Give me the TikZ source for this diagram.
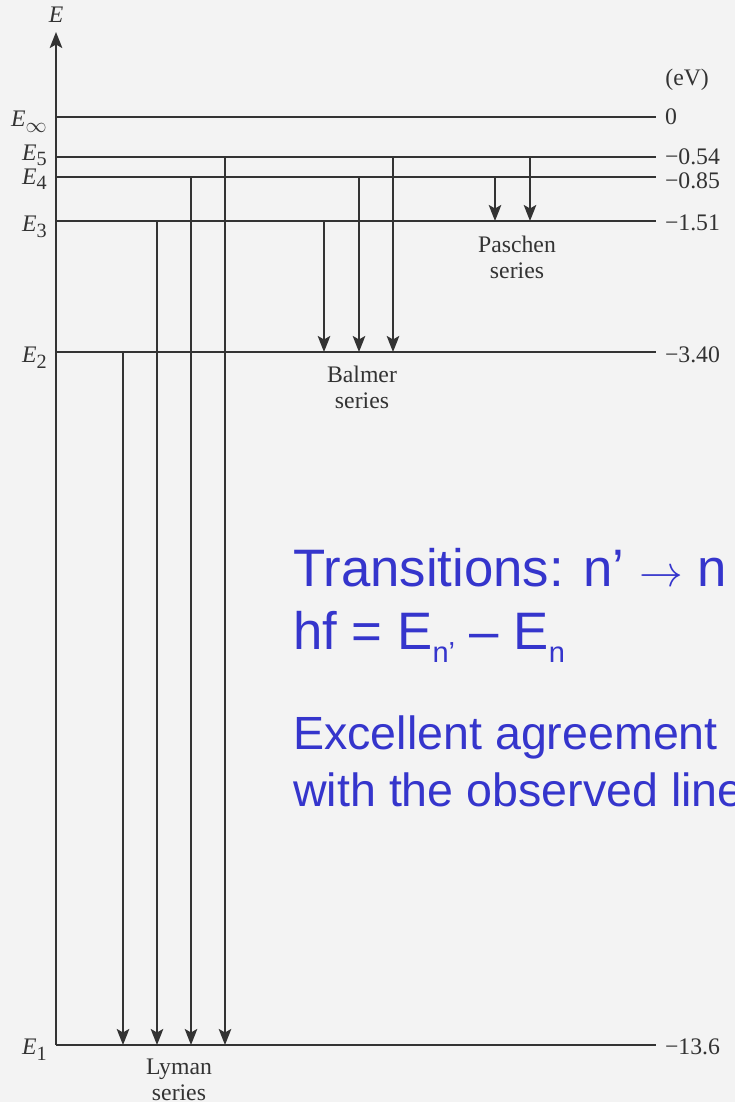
\documentclass[tikz,border=0pt]{standalone}
\usepackage{fontspec}
\setmainfont{Liberation Serif}
\newfontfamily\slidefont{Liberation Sans}
\usetikzlibrary{arrows.meta}

\definecolor{ink}{HTML}{333333}
\definecolor{slideblue}{HTML}{3535CC}
\definecolor{paper}{HTML}{F3F3F3}

% lowered index for the slide text
\newcommand\lowsub[1]{\raisebox{-0.23em}{\fontsize{16.5}{17}\selectfont #1}}
% level name, E with index
\newcommand\lvlname[1]{\textit{E}\raisebox{-0.22em}{\fontsize{11.5}{12}\selectfont #1}}

\begin{document}
\begin{tikzpicture}[
  level/.style={ink, line width=1.15pt},
  jump/.style={ink, line width=1.3pt, -{Stealth[length=3.2mm,width=2.5mm,inset=0.7mm]}},
  lab/.style={text=ink, inner sep=0pt, font=\fontsize{13.5}{14.8}\selectfont},
  series/.style={lab, align=center, anchor=north},
  slide/.style={text=slideblue, inner sep=0pt, anchor=base west}
]
\useasboundingbox (0,0) rectangle (14.7,22.04);
\fill[paper] (0,0) rectangle (14.7,22.04);
\clip (0,0) rectangle (14.7,22.04);

% energy levels, values on the right
\foreach \n/\y/\sub/\dy/\val/\vy in {1/1.14/1/0.2/−13.6/-0.04,
    2/15.00/2/0.22/−3.40/-0.06, 3/17.62/3/0.22/−1.51/-0.04,
    4/18.50/4/0.15/−0.85/-0.08, 5/18.90/5/0.07/−0.54/0,
    inf/19.70/$\infty$/0.2/0/0} {
  \coordinate (lvl\n) at (1.12,\y);
  \draw[level] (lvl\n) -- (13.12,\y)
    node[lab, anchor=west, xshift=0.16cm, yshift=\vy cm] (val\n) {\val};
  \node[lab, anchor=base east] (E\n) at (0.94,\y-\dy) {\lvlname{\sub}};
}
\node[lab, anchor=west] (unit) at (13.3,20.44) {(eV)};

% energy axis
\coordinate (top) at (1.12,21.4);
\draw[jump] (lvl1) -- (top);
\node[lab, anchor=base] (Eaxis) at (1.12,21.58) {\textit{E}};

% Lyman series
\foreach \x/\from in {2.46/2, 3.14/3, 3.82/4, 4.50/5}
  \draw[jump] (\x,0 |- lvl\from) -- (\x,0 |- lvl1);
% Balmer series
\foreach \x/\from in {6.48/3, 7.18/4, 7.86/5}
  \draw[jump] (\x,0 |- lvl\from) -- (\x,0 |- lvl2);
% Paschen series
\foreach \x/\from in {9.90/4, 10.60/5}
  \draw[jump] (\x,0 |- lvl\from) -- (\x,0 |- lvl3);

\node[series] (lyman) at (3.58,0.86) {Lyman\\series};
\node[series] (balmer) at (7.24,14.72) {Balmer\\series};
\node[series] (paschen) at (10.34,17.32) {Paschen\\series};

% slide text
\node[slide, font=\slidefont\fontsize{30}{32}\selectfont] (trans) at (5.86,10.30)
  {Transitions: n’ $\rightarrow$ n};
\node[slide, font=\slidefont\fontsize{30}{32}\selectfont] (hf) at (5.86,9.04)
  {hf = E\lowsub{n’} – E\lowsub{n}};
\node[slide, font=\slidefont\fontsize{26.5}{28}\selectfont] (agree) at (5.86,7.04)
  {Excellent agreement};
\node[slide, font=\slidefont\fontsize{26.5}{28}\selectfont] (lines) at (5.86,5.90)
  {with the observed lines};
\end{tikzpicture}
\end{document}
